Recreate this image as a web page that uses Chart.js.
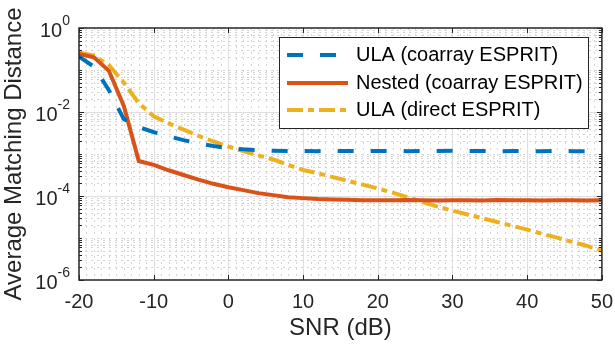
<!DOCTYPE html>
<html>
<head>
<meta charset="utf-8">
<script src="https://cdn.jsdelivr.net/npm/chart.js@4"></script>
<style>
  body { margin: 0; background: #fff; }
  #wrap { width: 615px; height: 347px; position: relative; }
</style>
</head>
<body>
<div id="wrap"><canvas id="chart"></canvas></div>
<script>
// SNR grid (dB)
const snr = [-20, -18, -16, -14, -12, -10, -8, -6, -4, -2, 0, 2, 4, 6, 8, 10, 12, 14, 16, 18,
             20, 22, 24, 26, 28, 30, 32, 34, 36, 38, 40, 42, 44, 46, 48, 50];

const ulaCoarray = [0.209, 0.120, 0.0331, 0.00676, 0.00437, 0.00331, 0.00263, 0.00214, 0.00178, 0.00155,
                    0.00138, 0.00129, 0.00123, 0.00120, 0.00117, 1.18e-3, 1.17e-3, 1.19e-3, 1.18e-3, 1.17e-3,
                    1.18e-3, 1.19e-3, 1.17e-3, 1.18e-3, 1.18e-3, 1.19e-3, 1.17e-3, 1.18e-3, 1.16e-3, 1.18e-3,
                    1.17e-3, 1.16e-3, 1.18e-3, 1.17e-3, 1.17e-3, 1.18e-3];

const nestedCoarray = [0.240, 0.200, 0.0955, 0.0140, 6.8e-4, 5.5e-4, 4.1e-4, 3.16e-4, 2.45e-4, 1.95e-4,
                       1.62e-4, 1.38e-4, 1.17e-4, 1.05e-4, 9.3e-5, 8.9e-5, 8.5e-5, 8.3e-5, 8.1e-5, 7.9e-5,
                       7.9e-5, 7.9e-5, 8.0e-5, 7.9e-5, 7.8e-5, 7.9e-5, 7.9e-5, 7.8e-5, 8.0e-5, 7.9e-5,
                       7.9e-5, 7.8e-5, 7.9e-5, 7.9e-5, 7.8e-5, 7.9e-5];

const ulaDirect = [0.263, 0.219, 0.132, 0.0501, 0.0162, 0.00794, 0.00537, 0.00380, 0.00269, 0.00200,
                   0.00151, 0.00117, 9.3e-4, 7.4e-4, 5.5e-4, 4.17e-4, 3.47e-4, 2.82e-4, 2.29e-4, 1.86e-4,
                   1.51e-4, 1.20e-4, 9.3e-5, 7.2e-5, 5.6e-5, 4.47e-5, 3.63e-5, 2.95e-5, 2.40e-5, 1.95e-5,
                   1.58e-5, 1.26e-5, 1.02e-5, 8.1e-6, 6.5e-6, 5.0e-6];

const seriesNames = ['ULA (coarray ESPRIT)', 'Nested (coarray ESPRIT)', 'ULA (direct ESPRIT)'];
const xTicks = [-20, -10, 0, 10, 20, 30, 40, 50];
const yTickExps = [0, -2, -4, -6];

const FONT = "'Liberation Sans', Arial, Helvetica, sans-serif";
const AXIS = '#262626';

function pts(vals) {
  return snr.map((s, i) => ({ x: s, y: vals[i] }));
}

const styles = [
  { color: '#0072BD', width: 4, dash: [16, 17] },
  { color: '#D95319', width: 4, dash: [] },
  { color: '#EDB120', width: 4, dash: [16, 5, 6, 5] }
];

// grid, box, inner ticks, y labels with exponents, legend
const axisDeco = {
  id: 'axisDeco',
  beforeDatasetsDraw(chart) {
    const { ctx, chartArea: a, scales: { x, y } } = chart;
    ctx.save();
    ctx.lineWidth = 1;
    ctx.strokeStyle = '#d4d4d4';
    ctx.setLineDash([2, 4]);
    ctx.beginPath();
    for (let v = -19; v < 50; v++) {
      if (v % 10 === 0) continue;
      const px = Math.round(x.getPixelForValue(v)) + 0.5;
      ctx.moveTo(px, a.top); ctx.lineTo(px, a.bottom);
    }
    ctx.stroke();
    ctx.beginPath();
    for (let e = -6; e < 0; e++) {
      for (let m = 1; m < 10; m++) {
        if (m === 1 && e % 2 === 0) continue;
        const py = Math.round(y.getPixelForValue(m * Math.pow(10, e))) + 0.5;
        ctx.moveTo(a.left, py); ctx.lineTo(a.right, py);
      }
    }
    ctx.stroke();
    ctx.setLineDash([]);
    ctx.strokeStyle = '#dedede';
    ctx.beginPath();
    xTicks.slice(1, -1).forEach(v => {
      const px = Math.round(x.getPixelForValue(v)) + 0.5;
      ctx.moveTo(px, a.top); ctx.lineTo(px, a.bottom);
    });
    yTickExps.slice(1, -1).forEach(e => {
      const py = Math.round(y.getPixelForValue(Math.pow(10, e))) + 0.5;
      ctx.moveTo(a.left, py); ctx.lineTo(a.right, py);
    });
    ctx.stroke();
    ctx.restore();
  },
  afterDatasetsDraw(chart) {
    const { ctx, chartArea: a, scales: { x, y } } = chart;
    ctx.save();
    ctx.strokeStyle = AXIS;
    ctx.lineWidth = 1;
    ctx.beginPath();
    // x major ticks, bottom and top
    xTicks.forEach(v => {
      const px = Math.round(x.getPixelForValue(v)) + 0.5;
      ctx.moveTo(px, a.bottom); ctx.lineTo(px, a.bottom - 5);
      ctx.moveTo(px, a.top); ctx.lineTo(px, a.top + 5);
    });
    // y ticks, left and right
    for (let e = -6; e <= 0; e++) {
      for (let m = 1; m < 10; m++) {
        if (e === 0 && m > 1) break;
        const py = Math.round(y.getPixelForValue(m * Math.pow(10, e))) + 0.5;
        const len = (m === 1 && e % 2 === 0) ? 5 : 3;
        ctx.moveTo(a.left, py); ctx.lineTo(a.left + len, py);
        ctx.moveTo(a.right, py); ctx.lineTo(a.right - len, py);
      }
    }
    ctx.stroke();
    ctx.lineWidth = 1.5;
    ctx.strokeRect(a.left, a.top, a.right - a.left, a.bottom - a.top);

    // y tick labels 10^k
    ctx.fillStyle = AXIS;
    ctx.textBaseline = 'alphabetic';
    yTickExps.forEach(e => {
      const py = y.getPixelForValue(Math.pow(10, e));
      const right = 70;
      ctx.font = '14px ' + FONT;
      const expTxt = String(e);
      ctx.textAlign = 'right';
      ctx.fillText(expTxt, right, py - 3);
      const expW = ctx.measureText(expTxt).width;
      ctx.font = '20px ' + FONT;
      ctx.fillText('10', right - expW, py + 8.5);
    });

    // legend
    const lx = 279, ly = 37, lw = 309, lh = 91;
    ctx.fillStyle = '#fff';
    ctx.fillRect(lx, ly, lw, lh);
    ctx.lineWidth = 1;
    ctx.strokeStyle = AXIS;
    ctx.strokeRect(lx + 0.5, ly + 0.5, lw, lh);
    const rows = [55, 83, 110];
    seriesNames.forEach((name, i) => {
      const s = styles[i];
      ctx.beginPath();
      ctx.strokeStyle = s.color;
      ctx.lineWidth = s.width;
      ctx.setLineDash(s.dash);
      ctx.moveTo(287, rows[i]); ctx.lineTo(348, rows[i]);
      ctx.stroke();
      ctx.setLineDash([]);
      ctx.fillStyle = '#000';
      ctx.font = '20px ' + FONT;
      ctx.textAlign = 'left';
      ctx.textBaseline = 'middle';
      ctx.fillText(name, 356, rows[i]);
    });
    ctx.restore();
  }
};

const datasets = [ulaCoarray, nestedCoarray, ulaDirect].map((vals, i) => ({
  label: seriesNames[i],
  data: pts(vals),
  borderColor: styles[i].color,
  borderWidth: styles[i].width,
  borderDash: styles[i].dash,
  pointRadius: 0,
  tension: 0,
  fill: false
}));

new Chart(document.getElementById('chart'), {
  type: 'line',
  data: { datasets: datasets },
  options: {
    responsive: true,
    maintainAspectRatio: false,
    animation: false,
    layout: { padding: { top: 28, right: 11, left: 0, bottom: 0 } },
    plugins: { legend: { display: false }, tooltip: { enabled: false } },
    scales: {
      x: {
        type: 'linear',
        min: -20,
        max: 50,
        afterBuildTicks: (scale) => { scale.ticks = xTicks.map(v => ({ value: v })); },
        afterFit: (scale) => { scale.height = 67; },
        grid: { display: false },
        border: { display: false },
        ticks: { color: AXIS, font: { family: FONT, size: 20 }, padding: 2, maxRotation: 0 },
        title: { display: true, text: 'SNR (dB)', color: AXIS, font: { family: FONT, size: 24 }, padding: { top: 0, bottom: 4 } }
      },
      y: {
        type: 'logarithmic',
        min: 1e-6,
        max: 1,
        afterFit: (scale) => { scale.width = 79; },
        grid: { display: false },
        border: { display: false },
        ticks: { display: false },
        title: { display: true, text: 'Average Matching Distance', color: AXIS, font: { family: FONT, size: 24 }, padding: 0 }
      }
    }
  },
  plugins: [axisDeco]
});
</script>
</body>
</html>
